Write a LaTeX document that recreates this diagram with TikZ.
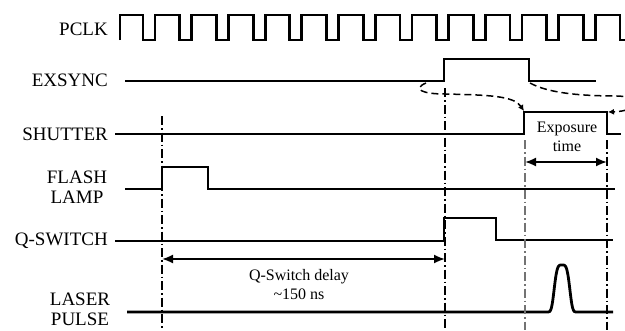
\documentclass[tikz,border=0pt]{standalone}
\usepackage{fontspec}
\setmainfont{Liberation Serif}
\usetikzlibrary{arrows.meta}
\begin{document}
\begin{tikzpicture}[x=1pt,y=-1pt,
  wave/.style={line width=2.8pt, line join=miter},
  siglabel/.style={font=\fontsize{19}{21}\selectfont, anchor=east, inner sep=0pt},
  twolabel/.style={font=\fontsize{19}{20}\selectfont, align=center, inner sep=0pt},
  note/.style={font=\fontsize{16}{19}\selectfont, align=center, inner sep=0pt},
  marker/.style={line width=1.6pt, dash pattern=on 9pt off 3pt on 1.5pt off 3pt},
  lightmarker/.style={marker, line width=1.1pt, draw=black!55},
  span/.style={line width=1.8pt, {Latex[length=11pt,width=9pt]}-{Latex[length=11pt,width=9pt]}},
  linkcurve/.style={line width=1.5pt, dash pattern=on 7pt off 4pt, -{Latex[length=6pt,width=6pt]}}
]
\useasboundingbox (0,0) rectangle (625,330);

% signal names
\node[siglabel] (pclk) at (108,29) {PCLK};
\node[siglabel] (exsync) at (108,80) {EXSYNC};
\node[siglabel] (shutter) at (108,134) {SHUTTER};
\node[twolabel] (flash) at (77,187) {FLASH\\LAMP};
\node[siglabel] (qswitch) at (108,241) {Q-SWITCH};
\node[twolabel] (laser) at (80,309) {LASER\\PULSE};

% pixel clock
\draw[wave] (120,40) -- (120,15)
  foreach \k in {0,...,12}{
    -- ({143+36.7*\k},15) -- ({143+36.7*\k},40)
    -- ({155+36.7*\k},40) -- ({155+36.7*\k},15)}
  -- (620,15) -- (620,40) -- (626,40);

% external sync pulse
\draw[wave] (125,81) -- (444,81) -- (444,59) -- (529,59) -- (529,81) -- (596,81);

% shutter (exposure window)
\draw[wave] (115,134) -- (524,134) -- (524,112) -- (607,112) -- (607,134) -- (621,134);

% flash lamp pulse
\draw[wave] (125,189) -- (162,189) -- (162,167) -- (208,167) -- (208,189) -- (615,189);

% Q-switch pulse
\draw[wave] (115,241) -- (444,241) -- (444,218) -- (496,218) -- (496,240) -- (613,240);

% laser output pulse
\draw[wave] (127,312) -- (538,312)
  -- plot[domain=538:586, samples=80, smooth]
     (\x, {312-47*exp(-(((\x-562)/8.5)*((\x-562)/8.5))*(((\x-562)/8.5)*((\x-562)/8.5)))})
  -- (613,312);

% timing markers
\coordinate (m1top) at (162,116);
\coordinate (m1bot) at (162,330);
\coordinate (m2top) at (445,88);
\coordinate (m2bot) at (445,330);
\coordinate (m3top) at (525,140);
\coordinate (m3bot) at (525,330);
\coordinate (m4top) at (607,140);
\coordinate (m4bot) at (607,330);
\draw[marker] (m1top) -- (m1bot);
\draw[marker] (m2top) -- (m2bot);
\draw[lightmarker] (m3top) -- (m3bot);
\draw[marker] (m4top) -- (m4bot);

% sync edges trigger the shutter edges
\coordinate (exA) at (426,83);
\coordinate (shA) at (524,111);
\coordinate (exB) at (530,83);
\coordinate (shB) at (608,112);
\draw[linkcurve] (exA) .. controls (412,89) and (422,94) .. (445,94)
  .. controls (490,95) and (514,96) .. (shA);
\draw[linkcurve] (exB) .. controls (548,93) and (580,96) .. (618,96)
  .. controls (642,97) and (640,111) .. (shB);

% exposure time
\coordinate (etA) at (525,162);
\coordinate (etB) at (607,162);
\draw[span] (etA) -- (etB);
\node[note] (exptxt) at (567,137) {Exposure\\time};

% Q-switch delay
\coordinate (qdA) at (162,259);
\coordinate (qdB) at (445,259);
\draw[span] (qdA) -- (qdB);
\node[note] (qdtxt) at (299,285) {Q-Switch delay\\\textasciitilde150 ns};
\end{tikzpicture}
\end{document}
